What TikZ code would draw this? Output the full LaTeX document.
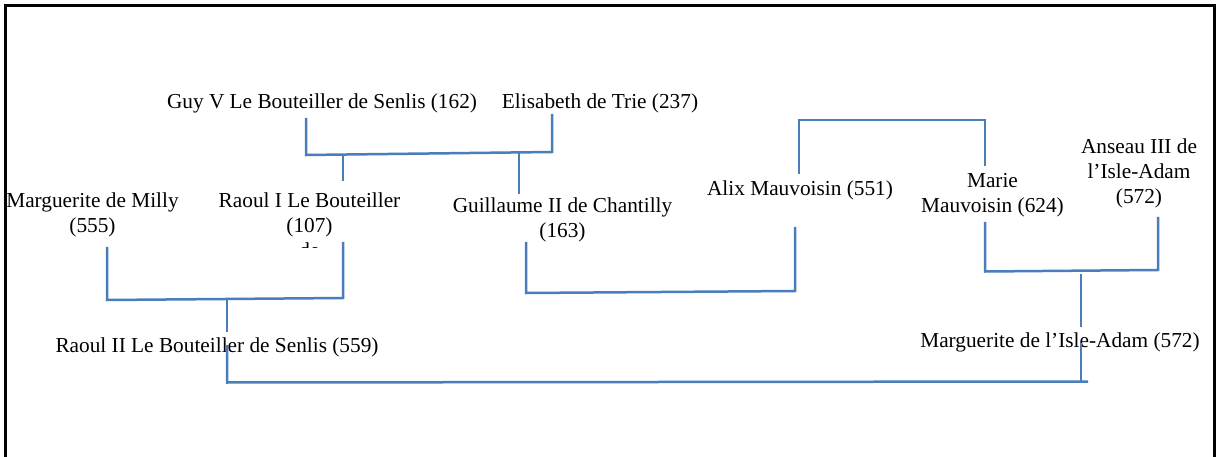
\documentclass[tikz,border=0pt]{standalone}
\usepackage{fontspec}
\setmainfont{Liberation Serif}
\definecolor{linkblue}{HTML}{4A7EBB}
\newcommand{\stacklines}[1]{\begin{tabular}[t]{@{}c@{}}#1\end{tabular}}
\begin{document}
\begin{tikzpicture}[x=1pt,y=-1pt,
  person/.style={anchor=base,inner sep=0pt,font=\fontsize{21.3}{25}\selectfont},
  conn/.style={draw=linkblue,line width=2.5pt}]
\useasboundingbox (0,0) rectangle (1216,457);
\fill[white] (0,0) rectangle (1216,457);
\draw[black,line width=2.6pt] (5.5,457) -- (5.5,5.3) -- (1214.6,5.3) -- (1214.6,457);

% persons
\node[person] (guy) at (322,109) {Guy V Le Bouteiller de Senlis (162)};
\node[person] (elis) at (600,109) {Elisabeth de Trie (237)};
\node[person] (mmilly) at (92.5,208) {\stacklines{Marguerite de Milly\\(555)}};
\begin{scope}
  \clip (0,0) rectangle (1216,247.8);
  \node[person] (raoul1) at (309.5,208) {\stacklines{Raoul I Le Bouteiller\\(107)\\de}};
\end{scope}
\node[person] (guil) at (562.5,213) {\stacklines{Guillaume II de Chantilly\\(163)}};
\node[person] (alix) at (800,196) {Alix Mauvoisin (551)};
\node[person] (marie) at (992.5,188) {\stacklines{Marie\\Mauvoisin (624)}};
\node[person] (anseau) at (1139,154) {\stacklines{Anseau III de\\l’Isle-Adam\\(572)}};
\node[person] (raoul2) at (217,352) {Raoul II Le Bouteiller de Senlis (559)};
\node[person] (mlia) at (1060,347) {Marguerite de l’Isle-Adam (572)};

% connector points
\coordinate (guyB) at (306,118);
\coordinate (guyJ) at (306,155);
\coordinate (elisJ) at (552,152);
\coordinate (elisB) at (552,114);
\coordinate (r1T) at (343,154.4);
\coordinate (r1Tb) at (343,181);
\coordinate (guT) at (519,152.9);
\coordinate (guTb) at (519,194);

\coordinate (alT) at (799,174);
\coordinate (alJ) at (799,120);
\coordinate (maJ) at (985,120);
\coordinate (maT) at (985,166);

\coordinate (mmB) at (107,247);
\coordinate (mmJ) at (107,300);
\coordinate (r1J) at (343,298);
\coordinate (r1B) at (343,242);
\coordinate (r2T) at (227,299);
\coordinate (r2Tb) at (227,332);

\coordinate (guB) at (526,242);
\coordinate (guJ) at (526,293);
\coordinate (alJb) at (795,291);
\coordinate (alB) at (795,227);

\coordinate (maB) at (985,222);
\coordinate (maJb) at (985,271.5);
\coordinate (anJ) at (1158,270);
\coordinate (anB) at (1158,217);
\coordinate (mlT) at (1081,274);
\coordinate (mlTb) at (1081,327);

\coordinate (r2B) at (227,345);
\coordinate (r2J) at (227,382.5);
\coordinate (mlJ) at (1088,381.5);
\coordinate (mlB) at (1081,343);
\coordinate (mlJb) at (1081,381.5);

% connectors
\draw[conn] (guyB) -- (guyJ) -- (elisJ) -- (elisB);
\draw[conn] (r1T) -- (r1Tb);
\draw[conn] (guT) -- (guTb);
\draw[conn] (alT) -- (alJ) -- (maJ) -- (maT);
\draw[conn] (mmB) -- (mmJ) -- (r1J) -- (r1B);
\draw[conn] (r2T) -- (r2Tb);
\draw[conn] (guB) -- (guJ) -- (alJb) -- (alB);
\draw[conn] (maB) -- (maJb) -- (anJ) -- (anB);
\draw[conn] (mlT) -- (mlTb);
\draw[conn] (r2B) -- (r2J) -- (mlJ);
\draw[conn] (mlB) -- (mlJb);
\end{tikzpicture}
\end{document}
